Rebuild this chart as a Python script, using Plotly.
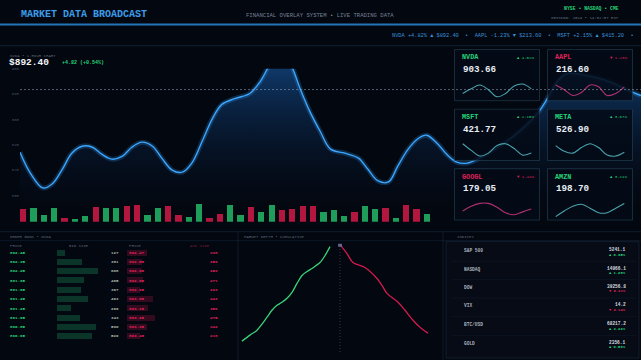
import plotly.graph_objects as go

W, H = 641, 360
def fx(px): return px / W
def fy(py): return 1 - py / H

# ---------------- data ----------------
hours = [0, 1.0, 2.2, 3.1, 4.1, 5.0, 6.0, 7.0, 7.9, 8.9, 9.9, 10.8, 11.8, 12.8, 13.7, 14.7,
         15.7, 16.6, 17.6, 18.6, 19.5, 20.8, 22.2, 23.2, 24.2, 25.1, 26.1, 27.1, 28.0, 29.0,
         30.0, 31.4, 32.7, 33.6, 34.6, 35.6, 36.5, 37.5, 38.5, 39.3, 40.3, 41.3, 42.2, 43.2,
         44.4, 45.9, 47.3, 48.8, 50.0, 50.9, 51.9, 52.8, 54.3, 55.7, 57.2, 58.6, 60.0]
prices = [834.1, 817.6, 805.9, 809.0, 820.8, 833.3, 838.8, 838.0, 832.5, 828.6, 831.0, 838.0,
          842.0, 838.8, 829.4, 820.0, 818.4, 825.5, 842.7, 860.8, 871.8, 876.5, 880.4, 889.8,
          903.9, 911.8, 903.9, 883.5, 866.3, 850.6, 836.5, 833.3, 829.4, 820.8, 811.4, 810.6,
          823.1, 836.5, 845.1, 847.5, 841.2, 831.8, 826.3, 825.5, 829.4, 836.5, 844.3, 854.5,
          864.7, 875.7, 889.8, 896.1, 895.3, 892.9, 889.0, 883.5, 878.8]
ref_level = 883.5
price_ticks = [800, 820, 840, 860, 880, 900]

volume = [12, 13, 7, 13, 4, 3, 6, 14, 13, 13, 15, 16, 7, 13, 15, 7, 5, 17, 4, 8,
          16, 7, 14, 9, 16, 11, 12, 15, 15, 9, 11, 6, 9, 15, 12, 13, 4, 16, 12, 8]
vol_up = [0, 1, 1, 1, 0, 1, 1, 0, 1, 1, 0, 0, 1, 1, 0, 0, 1, 1, 0, 0,
          1, 1, 0, 1, 1, 0, 0, 0, 0, 1, 1, 1, 0, 1, 1, 0, 1, 0, 0, 1]

tile_syms = ["NVDA", "AAPL", "MSFT", "META", "GOOGL", "AMZN"]
tile_prices = ["903.66", "216.60", "421.77", "526.90", "179.05", "198.70"]
tile_changes = [4.02, -1.23, 2.15, 3.67, -1.44, 3.11]
tile_sparks = [
    [0.29, 0.64, 0.93, 0.57, 0.04, 0.29, 0.86, 1.00, 0.64],
    [0.93, 0.57, 0.14, 0.36, 0.93, 0.79, 0.14, 0.29, 0.79],
    [1.00, 0.50, 0.07, 0.29, 0.86, 1.00, 0.64, 0.14, 0.29],
    [0.86, 0.43, 0.29, 0.71, 1.00, 0.71, 0.14, 0.07, 0.36],
    [0.43, 0.79, 1.00, 1.00, 0.71, 0.29, 0.14, 0.36, 0.57],
    [0.00, 0.43, 0.79, 0.93, 0.64, 0.29, 0.29, 0.64, 1.00],
]

bid_prices = ["892.45", "892.35", "892.25", "891.95", "891.65", "891.45", "891.25", "891.05", "890.85", "890.65"]
bid_sizes = [127, 381, 608, 405, 367, 463, 206, 343, 590, 520]
ask_prices = ["892.47", "892.55", "892.65", "892.85", "892.95", "893.05", "893.15", "893.25", "893.35", "893.45"]
ask_sizes = [338, 259, 253, 271, 223, 443, 356, 475, 342, 218]

depth_bid_px = [887.5, 887.9, 888.25, 888.5, 888.75, 889.0, 889.25, 889.5, 889.75, 890.0,
                890.25, 890.5, 890.75, 891.0, 891.2, 891.4, 891.65, 891.9]
depth_bid_cum = [110, 170, 220, 280, 350, 420, 470, 500, 540, 600, 690, 770, 810, 840, 870, 900, 970, 1060]
depth_ask_px = [892.4, 892.75, 893.05, 893.65, 894.25, 894.5, 894.75, 895.3, 895.65, 896.05, 896.4, 896.8]
depth_ask_cum = [1080, 990, 900, 850, 740, 670, 590, 500, 420, 320, 250, 190]
mid_price = 892.4

index_names = ["S&P 500", "NASDAQ", "DOW", "VIX", "BTC/USD", "GOLD"]
index_values = ["5241.1", "14966.1", "39256.8", "14.2", "68217.2", "2356.1"]
index_changes = [0.95, 1.28, -0.31, -2.14, 3.22, 0.59]

# ---------------- style ----------------
BG = "#03070f"
BLUE = "#3aa6ff"
GREEN = "#25d47a"
RED = "#e0205a"
BAR_G = "#1f9d5a"
BAR_R = "#b3163f"
GRAY = "rgba(140,160,180,0.65)"
MONO = "Liberation Mono, DejaVu Sans Mono, monospace"

fig = go.Figure()
layout = {}
annotations = []
shapes = []

def ann(text, x, y, size, color, xanchor="left", bold=False, xref="paper", yref="paper", yanchor="middle"):
    annotations.append(dict(text=f"<b>{text}</b>" if bold else text, x=x, y=y, xref=xref, yref=yref,
                            xanchor=xanchor, yanchor=yanchor, showarrow=False,
                            font=dict(family=MONO, size=size, color=color)))

# ---- main price chart (axis 1) ----
fig.add_trace(go.Scatter(x=hours, y=prices, mode="lines", line=dict(color="rgba(0,0,0,0)", shape="spline"),
                         fill="tozeroy",
                         fillgradient=dict(type="vertical", start=780, stop=905,
                                           colorscale=[[0, "rgba(4,12,30,0.0)"], [1, "rgba(25,95,175,0.6)"]]),
                         xaxis="x", yaxis="y", hoverinfo="skip"))
fig.add_trace(go.Scatter(x=hours, y=prices, mode="lines",
                         line=dict(color="rgba(58,166,255,0.22)", width=5, shape="spline"),
                         xaxis="x", yaxis="y", hoverinfo="skip"))
fig.add_trace(go.Scatter(x=hours, y=prices, mode="lines",
                         line=dict(color=BLUE, width=1.4, shape="spline"),
                         xaxis="x", yaxis="y"))
layout["xaxis"] = dict(domain=[fx(20), 1], range=[0, 60], visible=False, fixedrange=True)
layout["yaxis"] = dict(domain=[fy(220), fy(67)], range=[780, 900], tickvals=price_ticks,
                       showgrid=False, zeroline=False, showline=False, ticks="",
                       tickfont=dict(family=MONO, size=4, color="rgba(120,140,160,0.6)"))
shapes.append(dict(type="line", xref="paper", yref="y", x0=fx(20), x1=1, y0=ref_level, y1=ref_level,
                   line=dict(color="rgba(150,170,190,0.55)", width=1, dash="2px,2px")))

# ---- volume bars (axis 2) ----
fig.add_trace(go.Bar(x=list(range(len(volume))), y=volume,
                     marker=dict(color=[BAR_G if u else BAR_R for u in vol_up], line=dict(width=0)),
                     width=0.6, xaxis="x2", yaxis="y2"))
layout["xaxis2"] = dict(domain=[fx(17.8), fx(431.9)], range=[-0.5, 39.5], visible=False, anchor="y2")
layout["yaxis2"] = dict(domain=[fy(221), fy(202)], range=[0, 18], visible=False, anchor="x2")

# ---- tiles (axes 3-8) ----
cols = [(454, 540), (547, 633)]
rows = [(47, 100), (107, 160), (167, 220)]
npts = len(tile_sparks[0])
for k, sym in enumerate(tile_syms):
    n = k + 3
    x0, x1 = cols[k % 2]
    y0, y1 = rows[k // 2]
    up = tile_changes[k] >= 0
    ppu = (x1 - x0 - 16) / (npts - 1)
    xr = [-8 / ppu - 0.1, (npts - 1) + 8 / ppu + 0.1]
    ypu = 14.0
    yr = [-(y1 - (y0 + 50)) / ypu - 0.1, ((y0 + 50) - y0) / ypu + 0.1]
    layout[f"xaxis{n}"] = dict(domain=[fx(x0), fx(x1)], range=xr, visible=False, anchor=f"y{n}")
    layout[f"yaxis{n}"] = dict(domain=[fy(y1), fy(y0)], range=yr, visible=False, anchor=f"x{n}")
    bx0, bx1 = xr[0] + 0.05, xr[1] - 0.05
    by0, by1 = yr[0] + 0.05, yr[1] - 0.05
    fig.add_trace(go.Scatter(x=[bx0, bx1, bx1, bx0, bx0], y=[by0, by0, by1, by1, by0], mode="lines",
                             fill="toself", fillcolor="rgba(4,10,22,0.86)",
                             line=dict(color="rgba(45,80,100,0.55)", width=1),
                             xaxis=f"x{n}", yaxis=f"y{n}", hoverinfo="skip"))
    fig.add_trace(go.Scatter(x=list(range(npts)), y=tile_sparks[k], mode="lines",
                             line=dict(color="#4aa3ad" if up else "#b0306f", width=1.1, shape="spline"),
                             xaxis=f"x{n}", yaxis=f"y{n}", hoverinfo="skip"))
    ann(sym, fx(x0 + 6), fy(y0 + 8.5), 6.8, GREEN if up else RED, bold=True)
    arrow = "▲" if up else "▼"
    ann(f"{arrow} {abs(tile_changes[k]):.2f}%", fx(x1 - 4), fy(y0 + 9), 4, GREEN if up else RED, xanchor="right")
    ann(tile_prices[k], fx(x0 + 7), fy(y0 + 21), 9.2, "#e8eef5", bold=True)

# ---- market depth (axis 9) ----
fig.add_trace(go.Scatter(x=depth_bid_px, y=depth_bid_cum, mode="lines",
                         line=dict(color="#3ad27a", width=1.3, shape="spline"), xaxis="x9", yaxis="y9"))
fig.add_trace(go.Scatter(x=depth_ask_px, y=depth_ask_cum, mode="lines",
                         line=dict(color="#d4194f", width=1.3, shape="spline"), xaxis="x9", yaxis="y9"))
fig.add_trace(go.Scatter(x=[mid_price], y=[1080], mode="markers",
                         marker=dict(symbol="square", size=4, color="rgba(110,120,170,0.8)"),
                         xaxis="x9", yaxis="y9"))
layout["xaxis9"] = dict(domain=[fx(240), fx(440)], range=[887.4, 897.4], visible=False, anchor="y9")
layout["yaxis9"] = dict(domain=[fy(352), fy(243)], range=[0, 1090], visible=False, anchor="x9")
shapes.append(dict(type="line", xref="x9", yref="y9", x0=mid_price, x1=mid_price, y0=0, y1=1080,
                   line=dict(color="rgba(110,120,150,0.45)", width=1, dash="1px,2px")))

# ---- order book bars (axes 10, 11) ----
rows_idx = list(range(len(bid_sizes)))
fig.add_trace(go.Bar(x=bid_sizes, y=rows_idx, orientation="h", width=0.65,
                     marker=dict(color="rgba(25,110,75,0.45)", line=dict(width=0)),
                     xaxis="x10", yaxis="y10"))
fig.add_trace(go.Bar(x=ask_sizes, y=rows_idx, orientation="h", width=0.65,
                     marker=dict(color="rgba(130,20,55,0.38)", line=dict(width=0)),
                     xaxis="x11", yaxis="y10"))
layout["xaxis10"] = dict(domain=[fx(57), fx(107)], range=[0, 750], visible=False, anchor="y10")
layout["xaxis11"] = dict(domain=[fx(127), fx(167)], range=[0, 680], visible=False, anchor="y10")
layout["yaxis10"] = dict(domain=[fy(340.9), fy(247.6)], range=[9.5, -0.5], visible=False, anchor="x10")

for i in rows_idx:
    ann(bid_prices[i], fx(8), i, 4.2, GREEN, bold=True, yref="y10")
    ann(str(bid_sizes[i]), fx(121), i, 4.2, "rgba(200,215,205,0.85)", xanchor="right", bold=True, yref="y10")
    ann(ask_prices[i], fx(127), i, 4.2, RED, bold=True, yref="y10")
    ann(str(ask_sizes[i]), fx(220), i, 4.2, RED, xanchor="right", bold=True, yref="y10")

ann("ORDER BOOK • NVDA", fx(8), fy(236.5), 4, GRAY)
ann("PRICE", fx(8), fy(245), 4, GRAY)
ann("BID SIZE", fx(67), fy(245), 4, GRAY)
ann("PRICE", fx(127), fy(245), 4, GRAY)
ann("ASK SIZE", fx(188), fy(245), 4, "rgba(180,40,80,0.7)")
ann("MARKET DEPTH • CUMULATIVE", fx(242), fy(236.5), 4, GRAY)
ann("INDICES", fx(455), fy(236.5), 4, GRAY)

# ---- indices panel ----
idx_y = [250, 268.5, 287, 305.5, 324.5, 343]
for i, name in enumerate(index_names):
    up = index_changes[i] >= 0
    ann(name, fx(462), fy(idx_y[i]), 4.5, "rgba(200,210,220,0.85)", bold=True)
    ann(index_values[i], fx(628), fy(idx_y[i] - 1), 4.5, "rgba(225,232,240,0.95)", xanchor="right", bold=True)
    ann(f"{'▲' if up else '▼'} {abs(index_changes[i]):.2f}%", fx(628), fy(idx_y[i] + 4), 3.8,
        GREEN if up else RED, xanchor="right", bold=True)
    if i < len(index_names) - 1:
        yy = (idx_y[i] + idx_y[i + 1]) / 2 + 1.5
        shapes.append(dict(type="line", xref="paper", yref="paper", x0=fx(452), x1=fx(636),
                           y0=fy(yy), y1=fy(yy), line=dict(color="rgba(40,60,80,0.2)", width=1)))

# ---- header ----
ann("MARKET DATA BROADCAST", fx(19), fy(13), 10, "#3c9cea", bold=True)
ann("FINANCIAL OVERLAY SYSTEM • LIVE TRADING DATA", fx(320), fy(13.5), 5.6, "rgba(160,175,195,0.75)", xanchor="center")
ann("NYSE • NASDAQ • CME", fx(621), fy(7), 4.8, GREEN, xanchor="right", bold=True)
ann("SESSION: 2024 • 14:32:07 EST", fx(621), fy(16), 4, "rgba(150,165,185,0.75)", xanchor="right")
ann("NVDA +4.82% ▲ $892.40  •  AAPL -1.23% ▼ $213.60  •  MSFT +2.15% ▲ $415.20  •",
    fx(390), fy(34), 5.3, "#3a8fd6")
shapes.append(dict(type="line", xref="paper", yref="paper", x0=0, x1=1, y0=fy(22.5), y1=fy(22.5),
                   line=dict(color="#2474b8", width=2)))
shapes.append(dict(type="line", xref="paper", yref="paper", x0=0, x1=1, y0=fy(44), y1=fy(44),
                   line=dict(color="rgba(30,55,85,0.5)", width=1)))

# ---- main chart labels ----
ann("NVDA • 1-HOUR CHART", fx(8), fy(54.5), 4, GRAY)
ann("$892.40", fx(7), fy(60.5), 9.5, "#f2f5f8", bold=True)
ann("+4.82 (+0.54%)", fx(60), fy(61), 5, GREEN, bold=True)

# ---- panel separators ----
shapes.append(dict(type="line", xref="paper", yref="paper", x0=0, x1=1, y0=fy(231), y1=fy(231),
                   line=dict(color="rgba(30,50,75,0.5)", width=1)))
shapes.append(dict(type="line", xref="paper", yref="paper", x0=0, x1=1, y0=fy(240), y1=fy(240),
                   line=dict(color="rgba(30,50,75,0.4)", width=1)))
for xv in (238, 443):
    shapes.append(dict(type="line", xref="paper", yref="paper", x0=fx(xv), x1=fx(xv), y0=0, y1=fy(231),
                       line=dict(color="rgba(30,50,75,0.45)", width=1)))
shapes.append(dict(type="rect", xref="paper", yref="paper", x0=fx(446), x1=fx(639), y0=fy(358), y1=fy(241),
                   fillcolor="rgba(10,18,32,0.45)", line=dict(color="rgba(35,55,80,0.45)", width=1), layer="below"))

fig.update_layout(
    width=W, height=H, margin=dict(l=0, r=0, t=0, b=0),
    paper_bgcolor=BG, plot_bgcolor="rgba(0,0,0,0)",
    showlegend=False, bargap=0, annotations=annotations, shapes=shapes,
    **layout,
)
fig.write_html("out.html", config={"displayModeBar": False})
